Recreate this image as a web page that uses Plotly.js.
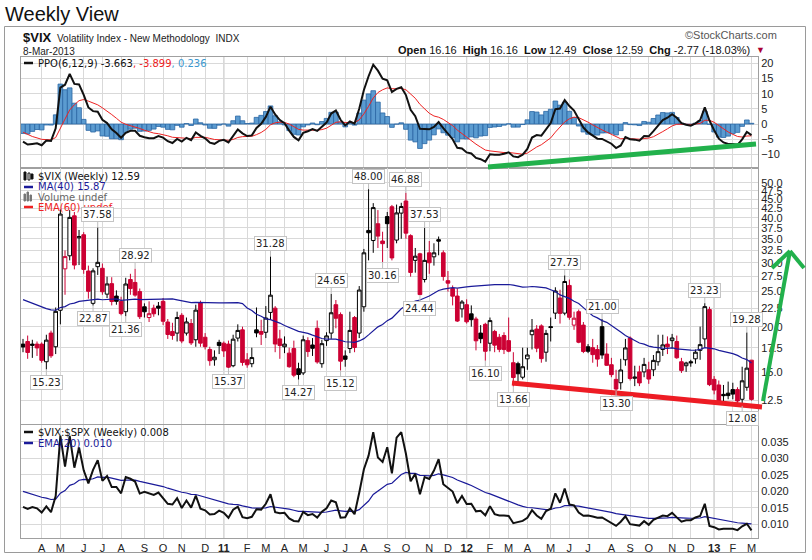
<!DOCTYPE html>
<html><head><meta charset="utf-8">
<script src="https://cdn.plot.ly/plotly-3.0.1.min.js"></script>
<style>html,body{margin:0;padding:0;background:#fff}#chart{width:812px;height:560px}</style>
</head><body><div id="chart"></div>
<script>
// ---------- DATA ----------
const firstWeek = '2010-03-08'; // Monday of first weekly bar
const vixOpen = [17.9,18.2,17.9,17.9,17.9,16.0,19.2,17.6,22.2,28.9,
31.4,40.5,35.2,35.9,28.5,23.2,29.3,29.0,24.6,26.3,
24.3,23.5,22.0,27.0,26.5,25.0,22.7,21.2,22.5,22.8,
23.5,20.6,19.4,19.2,21.5,19.2,20.4,18.4,23.3,18.7,
17.3,16.2,18.1,18.0,17.9,15.6,18.6,19.6,16.2,15.8,
19.6,19.4,19.3,21.9,22.5,18.5,17.6,16.9,17.4,15.3,
14.9,18.3,17.8,19.8,15.8,18.3,19.2,23.0,21.6,16.6,
17.4,21.2,19.2,22.7,36.9,34.6,38.5,34.5,40.3,42.9,
34.7,41.2,44.5,35.7,30.5,31.8,27.0,32.0,31.2,34.8,
32.0,26.8,25.5,24.3,22.4,23.0,21.7,21.0,19.2,20.3,
18.0,19.4,18.7,18.9,18.3,15.9,15.8,14.5,16.3,19.0,
19.7,20.1,17.0,20.0,21.8,24.0,21.8,26.0,20.2,22.0,
20.2,17.6,17.5,17.3,20.0,16.8,15.7,14.3,14.0,16.2,
18.6,14.4,15.0,15.0,15.2,15.2,16.0,17.3,17.9,18.3,
18.2,16.0,15.6,16.0,16.3,17.2,18.5,22.3,14.3,13.8,
13.0,13.1,13.4,13.4,12.6,13.6,16.16];
const vixHigh = [18.5,18.9,18.4,18.2,18.1,19.0,19.5,22.6,42.15,32.5,
42.0,41.5,37.0,36.5,29.5,29.0,37.58,29.9,27.5,27.4,
25.2,24.2,27.3,28.0,28.92,25.5,23.2,23.5,23.0,23.4,
24.0,21.0,20.5,22.0,21.8,21.2,21.0,23.0,23.6,19.2,
17.6,17.2,18.4,18.2,18.3,19.0,20.3,20.0,16.9,17.5,
22.6,20.9,22.8,31.28,22.8,19.6,18.8,17.5,18.3,15.9,
18.9,18.7,18.6,20.8,18.4,19.3,24.65,23.7,21.9,17.2,
22.0,21.4,25.9,32.8,48.00,43.9,42.0,36.6,41.5,43.4,
43.5,44.0,46.88,36.0,33.0,32.0,37.53,34.5,34.0,35.5,
32.5,28.5,26.0,25.5,23.7,23.8,22.9,21.3,20.2,20.5,
21.2,19.6,19.1,19.3,21.2,17.0,16.0,17.5,17.5,21.0,
20.2,20.3,19.6,21.2,25.7,25.3,27.73,27.0,22.0,22.3,
20.6,17.9,18.5,17.8,21.00,18.0,16.4,15.2,16.3,18.5,
18.8,15.6,15.6,16.4,16.0,16.7,19.0,19.0,18.8,19.1,
18.9,16.4,16.0,16.2,17.3,20.0,23.23,22.7,14.6,14.2,
13.8,14.1,14.0,13.6,15.5,19.28,16.16];
const vixLow = [17.0,16.3,16.4,16.6,15.9,15.23,16.4,16.8,20.3,24.5,
30.5,28.8,29.6,28.0,23.9,22.87,27.8,24.5,24.0,22.9,
23.0,21.5,21.36,24.5,24.2,21.0,21.2,20.6,21.3,21.5,
20.2,18.5,18.4,18.2,18.0,18.9,17.8,17.6,17.6,17.3,
15.6,15.6,16.8,16.5,15.37,15.45,18.2,15.6,15.4,15.45,
18.7,17.8,18.6,20.9,17.0,16.3,16.9,15.4,14.5,14.27,
14.7,16.5,16.6,15.8,15.4,17.7,18.5,19.8,15.12,15.5,
16.9,17.0,18.6,22.0,30.5,32.0,33.0,30.16,33.0,30.5,
34.0,35.0,35.0,27.5,28.2,24.44,26.5,28.0,29.5,31.5,
26.8,25.0,22.9,20.6,21.2,20.4,20.0,17.2,18.0,16.10,
17.1,17.0,17.0,16.8,17.0,13.66,14.0,14.3,15.2,17.3,
17.0,15.9,16.0,18.2,21.0,20.4,21.5,20.9,19.6,18.0,
16.9,16.9,15.9,15.5,16.3,15.6,14.5,13.30,13.4,15.6,
14.2,13.7,13.7,14.5,13.9,14.6,15.6,16.6,16.8,17.4,
16.3,14.9,15.0,15.5,15.8,16.2,17.5,13.7,13.0,12.3,
12.4,12.6,12.6,12.2,12.08,13.3,12.49];
const vixClose = [17.58,16.97,17.77,17.47,16.14,18.36,16.62,22.05,40.95,31.24,
40.10,29.6,35.48,28.79,25.05,28.53,30.12,24.98,26.25,23.47,
23.50,21.74,26.24,25.49,24.45,21.31,21.99,21.72,21.71,22.50,
20.7,19.03,18.90,21.20,18.26,20.61,18.04,22.22,18.01,17.61,
16.11,16.47,17.75,17.14,15.46,18.47,19.53,15.93,15.69,16.43,
19.22,19.06,21.13,24.44,17.91,17.75,17.90,15.5,14.69,14.75,
18.40,17.07,17.43,15.98,17.95,18.86,21.85,21.10,16.06,16.25,
19.53,17.52,25.25,32.00,36.36,42.67,35.59,33.92,38.52,30.98,
41.25,42.96,36.27,28.24,31.32,24.53,30.50,30.04,32.00,34.47,
27.52,26.38,24.29,20.73,23.40,20.63,20.91,18.28,18.53,17.10,
20.79,17.78,17.31,17.29,17.11,14.47,14.82,15.50,16.70,19.55,
17.44,16.32,19.16,19.89,25.10,21.76,26.66,21.23,21.11,18.11,
17.08,17.10,16.74,16.27,16.70,15.64,14.74,13.45,15.18,17.47,
14.38,14.51,13.98,15.73,14.33,16.14,17.06,17.81,17.59,18.61,
16.41,15.14,15.87,15.90,17.00,17.84,22.72,13.83,13.36,12.46,
12.89,12.90,13.02,12.46,14.17,15.36,12.59];
const spxClose = [1150,1160,1167,1179,1194,1192,1217,1187,1111,1136,1088,1089,1065,1092,1117,1076,1022,1078,1065,1102,1102,1122,1079,1071,1065,1104,1110,1125,1148,1146,1166,1176,1183,1183,1225,1199,1199,1190,1225,1240,1244,1257,1258,
1272,1293,1283,1276,1311,1329,1343,1320,1321,1304,1279,1314,1332,1329,1320,1337,1364,1340,1338,1333,1331,1300,1271,1272,1268,1340,1344,1316,1345,1292,1199,1179,1124,1177,1174,1154,1216,1136,1131,1155,1225,1238,1285,1253,1264,1216,1159,1244,1255,1219,1265,1258,
1278,1289,1315,1316,1345,1343,1361,1366,1370,1371,1404,1397,1408,1398,1370,1378,1403,1369,1353,1295,1318,1278,1325,1343,1335,1362,1354,1357,1363,1386,1391,1405,1418,1411,1407,1438,1466,1460,1441,1461,1429,1433,1412,1414,1380,1360,1409,1416,1418,1413,1430,1402,
1466,1472,1486,1503,1513,1518,1520,1516,1518,1551];
// weekly closes before the first visible bar (indicator warm-up)
const vixPrior = [28.15,27.99,25.93,27.95,29.02,24.34,23.87,25.92,25.40,24.70,25.01,24.76,25.26,24.15,23.92,25.61,28.68,23.12,21.43,23.31,30.69,24.19,22.73,22.19,24.74,21.25,21.59,21.68,19.47,21.68,18.13,17.91,27.31,24.62,26.11,22.73,20.02,19.50,17.42];
const spxPrior = [946,921,919,897,880,941,979,987,1010,1005,1026,1029,1017,1042,1068,1044,1025,1072,1088,1080,1036,1069,1093,1091,1092,1106,1106,1102,1126,1115,1145,1136,1092,1074,1066,1075,1109,1104,1139];
// swing labels (bar index, H = high / L = low)
const labelIdx  = [5,16,15,24,22,44,53,59,66,68,74,77,82,86,85,99,105,116,124,127,146,155,154];
const labelType = ['L','H','L','H','L','L','H','L','H','L','H','L','H','H','L','L','L','H','H','L','H','H','L'];
const monthLetters = ['J','F','M','A','M','J','J','A','S','O','N','D'];
const mainTickVals = [12.5,15,17.5,20,22.5,25,27.5,30,32.5,35,37.5,40,42.5,45,47.5,50];
const ppoTickVals = [-10,-5,0,5,10,15,20];
const ratioTickVals = [0.010,0.015,0.020,0.025,0.030,0.035];

// ---------- DERIVED ----------
const W=812, H=560;
const px = v => v/W, py = v => 1 - v/H;
function addDays(s,n){const d=new Date(s+'T00:00:00Z');d.setUTCDate(d.getUTCDate()+n);return d.toISOString().slice(0,10);}
const dates = vixClose.map((_,i)=>addDays(firstWeek,7*i));
const P = vixPrior.length;
const allClose = vixPrior.concat(vixClose);
const allSpx = spxPrior.concat(spxClose);
function ema(arr,n){const k=2/(n+1);const out=[];let e=arr[0];arr.forEach((v,i)=>{e=i===0?v:v*k+e*(1-k);out.push(e);});return out;}
const ma40 = vixClose.map((_,i)=>{const j=P+i;const s=allClose.slice(j-39,j+1);return s.reduce((a,b)=>a+b,0)/s.length;});
const e6=ema(allClose,6), e12=ema(allClose,12);
const ppoAll = allClose.map((_,i)=>(e6[i]-e12[i])/e12[i]*100);
const sigAll = ema(ppoAll,9);
const ppo = ppoAll.slice(P), sig = sigAll.slice(P);
const hist = ppo.map((v,i)=>v-sig[i]);
const ratioAll = allClose.map((v,i)=>v/allSpx[i]);
const ratioEma = ema(ratioAll,20).slice(P);
const ratio = ratioAll.slice(P);

// candle groups: red = close below previous close, black otherwise
const grp = {red:{x:[],o:[],h:[],l:[],c:[]}, black:{x:[],o:[],h:[],l:[],c:[]}};
vixClose.forEach((c,i)=>{const prev=i===0?vixPrior[P-1]:vixClose[i-1];const g=c<prev?grp.red:grp.black;
  g.x.push(dates[i]);g.o.push(vixOpen[i]);g.h.push(vixHigh[i]);g.l.push(vixLow[i]);g.c.push(c);});

// month ticks at first weekly bar of each month
const tickDates=[], tickText=[], yearDates=[];
for(let i=1;i<dates.length;i++){const m=+dates[i].slice(5,7), pm=+dates[i-1].slice(5,7);
  if(m!==pm){tickDates.push(dates[i]);
    if(m===1){tickText.push('<b>'+dates[i].slice(2,4)+'</b>');yearDates.push(dates[i]);}
    else tickText.push(monthLetters[m-1]);}}

const xRange=['2010-03-05','2013-03-13 18:00'];
const TF='Liberation Sans, Arial, sans-serif';
const LF='DejaVu Sans, Verdana, sans-serif';

const traces = [
  {type:'bar',x:dates,y:hist,xaxis:'x',yaxis:'y',width:604800000,marker:{color:'#5b9bd0',line:{color:'#2a66a3',width:0.8}},hoverinfo:'skip'},
  {type:'scatter',mode:'lines',x:dates,y:sig,xaxis:'x',yaxis:'y',line:{color:'#ee2222',width:1},hoverinfo:'skip'},
  {type:'scatter',mode:'lines',x:dates,y:ppo,xaxis:'x',yaxis:'y',line:{color:'#111',width:2},hoverinfo:'skip'},
  {type:'scatter',mode:'lines',x:dates,y:ma40,xaxis:'x2',yaxis:'y2',line:{color:'#1a1a99',width:1.2},hoverinfo:'skip'},
  {type:'candlestick',x:grp.black.x,open:grp.black.o,high:grp.black.h,low:grp.black.l,close:grp.black.c,xaxis:'x2',yaxis:'y2',
    whiskerwidth:0,increasing:{line:{color:'#000',width:1},fillcolor:'#fff'},decreasing:{line:{color:'#000',width:1},fillcolor:'#000'},hoverinfo:'skip'},
  {type:'candlestick',x:grp.red.x,open:grp.red.o,high:grp.red.h,low:grp.red.l,close:grp.red.c,xaxis:'x2',yaxis:'y2',
    whiskerwidth:0,increasing:{line:{color:'#cc0033',width:1},fillcolor:'#fff'},decreasing:{line:{color:'#cc0033',width:1},fillcolor:'#cc0033'},hoverinfo:'skip'},
  {type:'scatter',mode:'lines',x:dates,y:ratioEma,xaxis:'x3',yaxis:'y3',line:{color:'#1a1a99',width:1.2},hoverinfo:'skip'},
  {type:'scatter',mode:'lines',x:dates,y:ratio,xaxis:'x3',yaxis:'y3',line:{color:'#111',width:2},hoverinfo:'skip'}
];

const xBase = {type:'date',range:xRange,domain:[px(21),px(758)],tickvals:tickDates,showgrid:true,gridcolor:'#d9d9d9',gridwidth:1,
  zeroline:false,showline:true,linecolor:'#a0a0a0',mirror:true,ticks:'',fixedrange:true,rangeslider:{visible:false}};
const yBase = {side:'right',showgrid:true,gridcolor:'#d9d9d9',zeroline:false,showline:true,linecolor:'#a0a0a0',mirror:true,
  ticks:'',tickfont:{family:TF,size:11,color:'#222'},fixedrange:true};

const shapes = [];
// year separator lines
yearDates.forEach(d=>{[['x','y'],['x2','y2'],['x3','y3']].forEach(([xa,ya])=>{
  shapes.push({type:'line',xref:xa,yref:ya+' domain',x0:d,x1:d,y0:0,y1:1,line:{color:'#a8a8a8',width:1},layer:'below'});});});
// outer frame
shapes.push({type:'rect',xref:'paper',yref:'paper',x0:px(4.5),x1:px(805.5),y0:py(552.5),y1:py(26.5),line:{color:'#9a9a9a',width:1}});
// legend icons
const dash=(x0,x1,y,c,w)=>shapes.push({type:'line',xref:'paper',yref:'paper',x0:px(x0),x1:px(x1),y0:py(y),y1:py(y),line:{color:c,width:w}});
dash(24,33,63,'#111',2.5);
dash(24,33,187,'#1a1a99',2.5);
dash(24,33,207,'#ee2222',2.5);
dash(24,33,432,'#111',2.5);
dash(24,33,443,'#1a1a99',2.5);
const box=(x0,x1,y0,y1,c,f)=>shapes.push({type:'rect',xref:'paper',yref:'paper',x0:px(x0),x1:px(x1),y0:py(y1),y1:py(y0),line:{color:c,width:1},fillcolor:f});
box(24,26,172,180,'#111','#111'); box(28,30,173,180,'#111','#fff'); box(31,33,174,179,'#111','#111');
box(24,25.5,194,201,'#777','#777'); box(27,28.5,192,201,'#777','#777'); box(30,31.5,195,201,'#777','#777');
// hand-drawn annotations
const seg=(x0,y0,x1,y1,c,w)=>shapes.push({type:'line',xref:'paper',yref:'paper',x0:px(x0),y0:py(y0),x1:px(x1),y1:py(y1),line:{color:c,width:w},layer:'above'});
seg(488,167,756,144,'#22b14c',5);
seg(512,383,762,407,'#ed1c24',5);
seg(763,401,790,251,'#22b14c',4);
seg(772,268,790,251,'#22b14c',4);
seg(790,251,804,268,'#22b14c',4);

const ann = [];
const T=(x,y,text,size,color,family,anchor)=>ann.push({xref:'paper',yref:'paper',x:px(x),y:py(y),text,showarrow:false,
  xanchor:anchor||'left',yanchor:'middle',font:{size,color,family}});
T(3,14,'Weekly View',20,'#111',TF);
T(21,38,'<b>$VIX</b>',13,'#111',TF);
T(55,38.5,'Volatility Index - New Methodology  INDX',10,'#222',TF);
T(21,51,'8-Mar-2013',10,'#222',TF);
T(779,35,'©StockCharts.com',11,'#555',TF,'right');
T(752,50,'<b>Open</b> 16.16  <b>High</b> 16.16  <b>Low</b> 12.49  <b>Close</b> 12.59  <b>Chg</b> -2.77 (-18.03%)',11,'#111',TF,'right');
T(754,50,'▼',9,'#aa0033',TF);
T(36,63,'PPO(6,12,9) -3.663<span style="color:#ee2222">, -3.899</span><span style="color:#3a98d0">, 0.236</span>',10,'#111',LF);
T(36,176.5,'$VIX (Weekly) 12.59',10,'#111',LF);
T(36,187,'MA(40) 15.87',10,'#1a1a99',LF);
T(36,197,'Volume undef',10,'#666',LF);
T(36,207,'EMA(60) undef',10,'#ee2222',LF);
T(36,432,'$VIX:$SPX (Weekly) 0.008',10,'#111',LF);
T(36,443,'EMA(20) 0.010',10,'#1a1a99',LF);
labelIdx.forEach((i,k)=>{const hi=labelType[k]==='H';const v=hi?vixHigh[i]:vixLow[i];
  ann.push({xref:'x2',yref:'y2',x:dates[i],y:Math.log10(v),text:v.toFixed(2),showarrow:true,arrowhead:0,arrowwidth:1,
    arrowcolor:'#bdbdbd',ax:0,ay:hi?-13:13,standoff:0,bgcolor:'#fff',bordercolor:'#c4c4c4',borderwidth:1,borderpad:1,
    font:{family:LF,size:10,color:'#222'}});});

const layout = {
  width:W,height:H,margin:{l:0,r:0,t:0,b:0},paper_bgcolor:'#fff',plot_bgcolor:'#fff',
  showlegend:false,hovermode:false,boxgap:0.22,boxgroupgap:0,bargap:0,
  xaxis:Object.assign({},xBase,{anchor:'y',showticklabels:false}),
  yaxis:Object.assign({},yBase,{anchor:'x',domain:[py(168),py(57)],range:[-14.5,22.1],tickvals:ppoTickVals}),
  xaxis2:Object.assign({},xBase,{anchor:'y2',showticklabels:false}),
  yaxis2:Object.assign({},yBase,{anchor:'x2',type:'log',domain:[py(423.5),py(168)],range:[Math.log10(10.8),Math.log10(54.9)],
    tickvals:mainTickVals,ticktext:mainTickVals.map(v=>v.toFixed(1))}),
  xaxis3:Object.assign({},xBase,{anchor:'y3',showticklabels:true,ticktext:tickText,tickfont:{family:TF,size:11,color:'#222'}}),
  yaxis3:Object.assign({},yBase,{anchor:'x3',domain:[py(538),py(424.5)],range:[0.0058,0.0403],tickvals:ratioTickVals,tickformat:'.3f'}),
  shapes:shapes,annotations:ann
};
Plotly.newPlot('chart',traces,layout,{staticPlot:true,displayModeBar:false});
</script></body></html>
